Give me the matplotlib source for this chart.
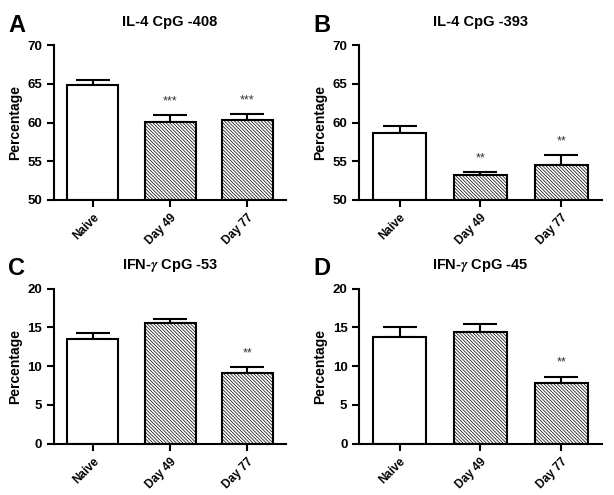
import numpy as np
import matplotlib
matplotlib.use('Agg')
import matplotlib.pyplot as plt

plt.rcParams['font.family'] = ['Liberation Sans', 'DejaVu Sans']
plt.rcParams['font.weight'] = 'bold'
plt.rcParams['mathtext.fontset'] = 'stix'
plt.rcParams['hatch.linewidth'] = 0.5
plt.rcParams['hatch.color'] = '#333333'

groups = ['Naive', 'Day 49', 'Day 77']

titles = ['IL-4 CpG -408', 'IL-4 CpG -393', r'IFN-$\gamma$ CpG -53', r'IFN-$\gamma$ CpG -45']
letters = ['A', 'B', 'C', 'D']

means_a = [64.8, 60.1, 60.3]
sem_a = [0.7, 0.9, 0.75]
means_b = [58.6, 53.2, 54.5]
sem_b = [0.95, 0.45, 1.25]
means_c = [13.5, 15.5, 9.15]
sem_c = [0.8, 0.6, 0.7]
means_d = [13.8, 14.4, 7.75]
sem_d = [1.3, 1.05, 0.9]

stars_a = ['', '***', '***']
stars_b = ['', '**', '**']
stars_c = ['', '', '**']
stars_d = ['', '', '**']

ylims = [(50, 70), (50, 70), (0, 20), (0, 20)]

fig = plt.figure(figsize=(6.14, 4.95), dpi=100)
boxes = [[0.088, 0.596, 0.378, 0.313],
         [0.585, 0.596, 0.395, 0.313],
         [0.088, 0.104, 0.378, 0.313],
         [0.585, 0.104, 0.395, 0.313]]

data = [(means_a, sem_a, stars_a), (means_b, sem_b, stars_b),
        (means_c, sem_c, stars_c), (means_d, sem_d, stars_d)]

for i in range(4):
    ax = fig.add_axes(boxes[i])
    m, s, st = data[i]
    x = np.arange(len(groups))
    lo, hi = ylims[i]
    hatches = ['', '\\' * 10, '\\' * 10]
    for j in range(3):
        ax.bar(x[j], m[j] - lo, bottom=lo, width=0.66, color='white',
               edgecolor='black', linewidth=1.5, hatch=hatches[j], zorder=2)
    ax.errorbar(x, m, yerr=[np.zeros(3), s], fmt='none', ecolor='black',
                elinewidth=1.5, capsize=12, capthick=1.5, zorder=1)
    span = hi - lo
    for j in range(3):
        if st[j]:
            ax.text(x[j], m[j] + s[j] + span * 0.05, st[j], ha='center', va='bottom',
                    fontsize=9, fontweight='normal', color='#333333')
    ax.set_xlim(-0.5, 2.5)
    ax.set_ylim(lo, hi)
    ax.set_yticks(np.arange(lo, hi + 1, 5))
    ax.set_xticks(x)
    ax.set_xticklabels(groups, rotation=45, ha='right', rotation_mode='anchor',
                       fontsize=8.5, fontweight='bold')
    ax.tick_params(axis='y', labelsize=9.5, width=1.5, length=5)
    ax.tick_params(axis='x', width=1.5, length=5)
    for t in ax.get_yticklabels():
        t.set_fontweight('bold')
    ax.spines['top'].set_visible(False)
    ax.spines['right'].set_visible(False)
    ax.spines['left'].set_linewidth(1.5)
    ax.spines['bottom'].set_linewidth(1.5)
    ax.set_ylabel('Percentage', fontsize=10, fontweight='bold')
    ax.set_title(titles[i], fontsize=10.5, fontweight='bold', pad=14)
    fig.text(boxes[i][0] - 0.075, boxes[i][1] + boxes[i][3] + 0.04, letters[i],
             fontsize=17, fontweight='bold', va='center')

fig.savefig('out.png', dpi=100)
